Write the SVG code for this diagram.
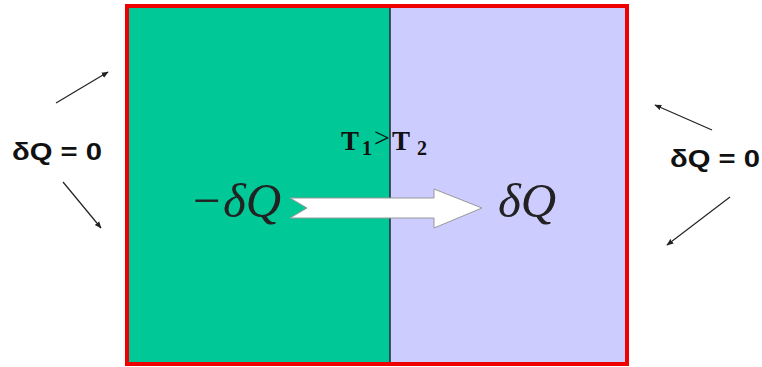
<svg xmlns="http://www.w3.org/2000/svg" width="762" height="367" viewBox="0 0 762 367">
<defs>
<style>
.lbl{font-family:"Liberation Sans",Arial,sans-serif;font-weight:bold;font-size:23px;fill:#111}
.math{font-family:"Liberation Serif","Times New Roman",serif;font-style:italic;font-size:49px;fill:#222}
.tt{font-family:"Liberation Serif","Times New Roman",serif;font-weight:bold;fill:#111}
.conn{stroke:#222;stroke-width:1.2;fill:none;marker-end:url(#ah)}
</style>
<marker id="ah" viewBox="0 0 10 10" refX="9" refY="5" markerWidth="7" markerHeight="7" orient="auto" markerUnits="userSpaceOnUse">
<path d="M0,1 L10,5 L0,9 z" fill="#222"/>
</marker>
</defs>
<rect width="762" height="367" fill="#fff"/>
<g id="hot-body">
<rect x="127" y="6" width="263" height="358" fill="#00C896"/>
</g>
<g id="cold-body">
<rect x="390" y="6" width="237" height="358" fill="#CCCCFF"/>
</g>
<g id="wall">
<line x1="390" y1="6" x2="390" y2="364" stroke="#1a2a33" stroke-width="1.5"/>
<rect x="127" y="6" width="500" height="358" fill="none" stroke="#EE0000" stroke-width="4"/>
</g>
<g id="heat-arrow">
<path d="M290,198 L434,198 L434,189 L482,208 L434,228 L434,218 L290,218 L307,208 z" fill="#fff" stroke="#999" stroke-width="1"/>
</g>
<g id="labels">
<text class="math" x="190" y="217">−δQ</text>
<text class="math" x="498" y="217">δQ</text>
<text class="tt" y="150" font-size="27"><tspan x="341">T</tspan><tspan x="362" y="155" font-size="20">1</tspan><tspan x="374" y="147" font-weight="normal" font-size="28">&gt;</tspan><tspan x="392" y="150">T</tspan><tspan x="417" y="155" font-size="20">2</tspan></text>
<text class="lbl" x="12" y="160" textLength="90" lengthAdjust="spacingAndGlyphs">δQ = 0</text>
<text class="lbl" x="670" y="167" textLength="90" lengthAdjust="spacingAndGlyphs">δQ = 0</text>
</g>
<g id="connectors">
<line class="conn" x1="56" y1="103" x2="108" y2="72"/>
<line class="conn" x1="63" y1="182" x2="101" y2="228"/>
<line class="conn" x1="712" y1="130" x2="655" y2="105"/>
<line class="conn" x1="730" y1="197" x2="667" y2="245"/>
</g>
</svg>
